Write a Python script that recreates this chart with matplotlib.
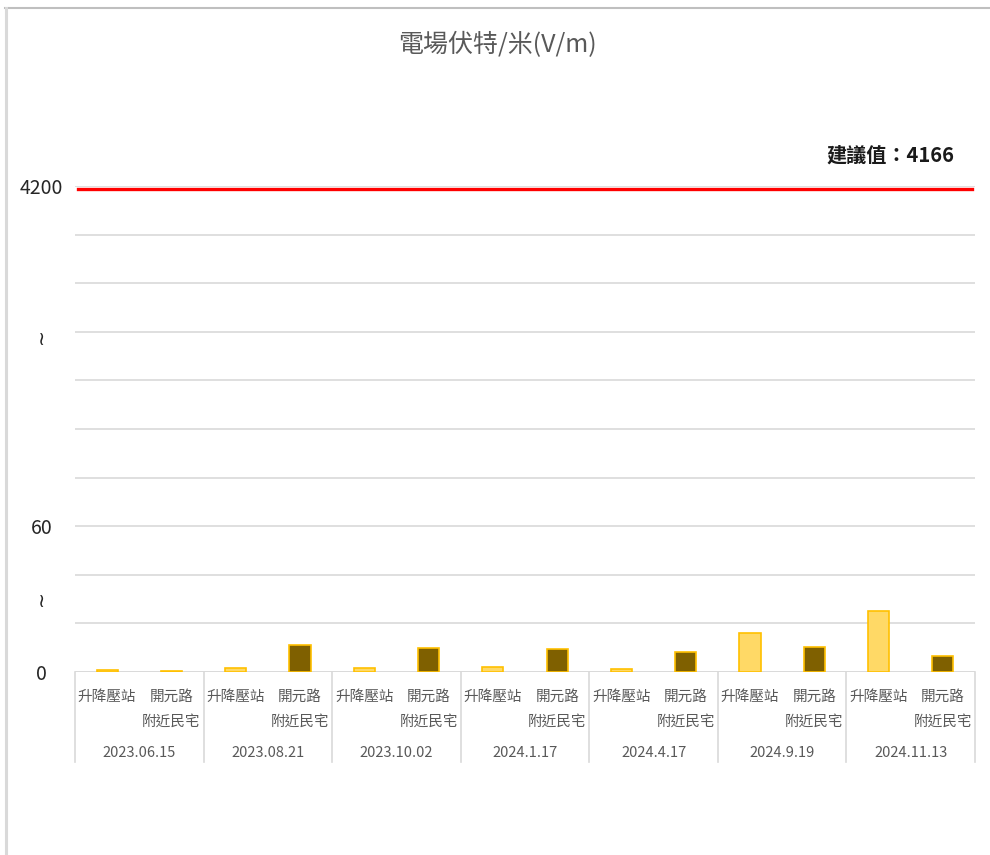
import matplotlib
matplotlib.use("Agg")
import matplotlib.pyplot as plt
from matplotlib.lines import Line2D

plt.rcParams['font.family'] = ['Noto Sans CJK TC', 'DejaVu Sans']

# 量測資料 (V/m)
dates = ["2023.06.15", "2023.08.21", "2023.10.02", "2024.1.17",
         "2024.4.17", "2024.9.19", "2024.11.13"]
sites = ["升降壓站", "開元路\n附近民宅"]
substation = [0.7, 1.6, 1.5, 1.9, 1.2, 15.9, 25.2]
residence = [0.3, 11.0, 10.0, 9.6, 8.4, 10.3, 6.7]
limit = 4166

# 斷軸: 0~60 照原值, 60~4200 壓縮到 60~200
def brk(v):
    return v if v <= 60 else 60 + (v - 60) * 140 / 4140

fig = plt.figure(figsize=(9.9, 8.55), dpi=100)
W, H = 990, 855
ax = fig.add_axes([75 / W, (H - 672) / H, 900 / W, 486 / H])

n = len(dates)
xs1 = [2 * i for i in range(n)]
xs2 = [2 * i + 1 for i in range(n)]
ax.bar(xs1, [brk(v) for v in substation], width=0.33, color="#FFD966",
       edgecolor="#FFC000", linewidth=1.2, zorder=3)
ax.bar(xs2, [brk(v) for v in residence], width=0.33, color="#7F6000",
       edgecolor="#FFC000", linewidth=1.2, zorder=3)

ax.set_xlim(-0.5, 2 * n - 0.5)
ax.set_ylim(0, 200)
for s in ax.spines.values():
    s.set_visible(False)

# y 軸刻度
major = list(range(0, 201, 20))
lab = {0: "0", 60: "60", 200: "4200"}
ax.set_yticks(major, labels=[lab.get(v, "") for v in major])
ax.set_yticks([30, 138], labels=["≀", "≀"], minor=True)
ax.tick_params(axis="y", which="both", length=0, pad=24, labelsize=14,
               labelcolor="#262626")
for t in ax.get_yticklabels(which="both"):
    t.set_horizontalalignment("center")
ax.set_xticks([])
ax.grid(axis="y", color="#D9D9D9", linewidth=1.2, zorder=0)
ax.axhline(0, color="#D9D9D9", linewidth=1.2, zorder=1)

# 建議值
ax.axhline(brk(limit), xmin=0.0035, xmax=0.9965, color="#FF0000",
           linewidth=2.4, zorder=4)
fig.text(954 / W, 1 - 155 / H, "建議值：" + str(limit), ha="right",
         va="center", fontsize=14.5, fontweight="semibold", color="#1a1a1a")

# 分類標籤
trans = ax.get_xaxis_transform()
for i in range(n):
    for j, x in enumerate((xs1[i], xs2[i])):
        ax.annotate(sites[j], (x, 0), xycoords=trans, xytext=(0, -13),
                    textcoords="offset points", ha="center", va="top",
                    fontsize=10.5, color="#595959", linespacing=1.95)
    ax.annotate(dates[i], (2 * i + 0.5, 0), xycoords=trans,
                xytext=(0, -58.5), textcoords="offset points", ha="center",
                va="center", fontsize=10.5, color="#595959")
for b in range(n + 1):
    ax.plot([2 * b - 0.5, 2 * b - 0.5], [0, -90 / 486], transform=trans,
            color="#D9D9D9", linewidth=1.2, clip_on=False)

fig.text(497 / W, 1 - 45 / H, "電場伏特/米(V/m)", ha="center", va="center",
         fontsize=18, color="#595959")

# 外框
fig.add_artist(Line2D([5 / W, 1], [1 - 8 / H, 1 - 8 / H], color="#BFBFBF",
                      linewidth=1.5))
fig.add_artist(Line2D([6 / W, 6 / W], [0, 1 - 8 / H], color="#D9D9D9",
                      linewidth=2.2))

fig.savefig("out.png", dpi=100)
